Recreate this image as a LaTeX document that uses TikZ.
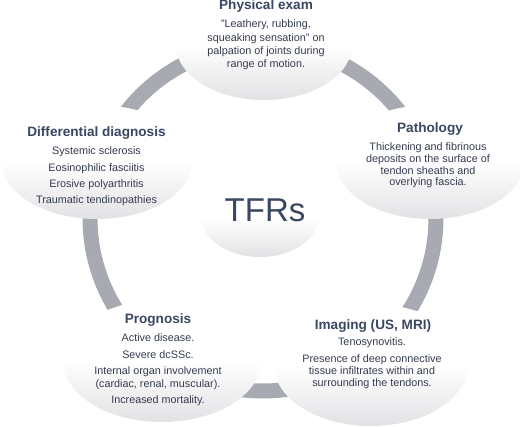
\documentclass[tikz,border=0pt]{standalone}
\usepackage{fontspec}
\setmainfont{Liberation Sans}
\usepackage{tikz}
\definecolor{ring}{RGB}{168,170,177}
\definecolor{head}{RGB}{58,71,99}
\definecolor{body}{RGB}{52,60,78}
\definecolor{shadebot}{RGB}{226,226,229}
\pgfdeclareverticalshading{ovalshade}{100bp}{color(0bp)=(shadebot); color(25bp)=(shadebot); color(50bp)=(white); color(100bp)=(white)}
\newcommand{\shadeoval}[4]{\shade[shading=ovalshade] (#1,#2) ellipse (#3 and #4);}
\newcommand{\drawring}{\draw[ring, line width=15pt]}

\begin{document}
\begin{tikzpicture}[x=1pt,y=-1pt,
  title/.style={font=\fontsize{13.6}{16}\selectfont\bfseries, text=head, inner sep=0pt, anchor=base},
  body/.style={font=\fontsize{10.8}{#1}\selectfont, text=body, align=center, inner sep=0pt},
  body/.default=13]
\useasboundingbox (0,0) rectangle (520,427);
\drawring (263,218) circle (173);
% the five fields and the centre
\shadeoval{264}{45}{88}{55}
\shadeoval{430}{162}{94}{57}
\shadeoval{97}{162}{95}{57}
\shadeoval{371}{365}{97}{61}
\shadeoval{162}{361}{99}{61}
\shadeoval{260}{218}{58}{39}
\node[font=\fontsize{33}{36}\selectfont, text=head, inner sep=0pt, anchor=base] (tfrs) at (265,222) {TFRs};
% physical exam
\node[title] (examtitle) at (266,10) {Physical exam};
\node[body=13.3] (examtext) at (266,45) {"Leathery, rubbing,\\squeaking sensation" on\\palpation of joints during\\range of motion.};
% pathology
\node[title] (pathtitle) at (430,133) {Pathology};
\node[body=11.7] (pathtext) at (428,165.5) {Thickening and fibrinous\\deposits on the surface of\\tendon sheaths and\\overlying fascia.};
% imaging
\node[title] (imagtitle) at (373,330) {Imaging (US, MRI)};
\node[body=12] (imagtext) at (372,363.5) {Tenosynovitis.\\[5pt]Presence of deep connective\\tissue infiltrates within and\\surrounding the tendons.};
% prognosis
\node[title] (progtitle) at (158,324) {Prognosis};
\node[body=13] (progtext) at (158,370) {Active disease.\\[3.5pt]Severe dcSSc.\\[3pt]Internal organ involvement\\(cardiac, renal, muscular).\\[3.5pt]Increased mortality.};
% differential diagnosis
\node[title] (difftitle) at (96.5,137) {Differential diagnosis};
\node[body=12.5] (difftext) at (96.5,176.5) {Systemic sclerosis\\[3.8pt]Eosinophilic fasciitis\\[3.8pt]Erosive polyarthritis\\[3.8pt]Traumatic tendinopathies};
\end{tikzpicture}
\end{document}
